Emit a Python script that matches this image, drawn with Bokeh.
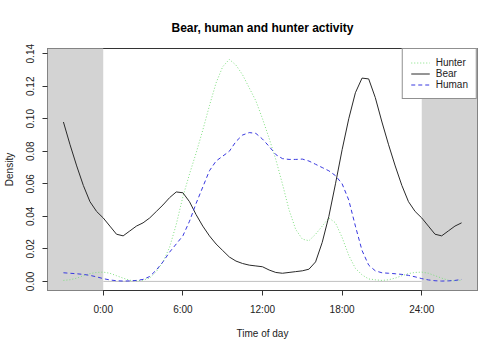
from bokeh.plotting import figure
from bokeh.models import FixedTicker, Range1d, Legend, LegendItem
from bokeh.embed import file_html
from bokeh.resources import INLINE

# ---------------- data ----------------
title_text = "Bear, human and hunter activity"
x_label = "Time of day"
y_label = "Density"

hours = [-3, -2.5, -2, -1.5, -1, -0.5,
         0, 0.5, 1, 1.5, 2, 2.5,
         3, 3.5, 4, 4.5, 5, 5.5,
         6, 6.5, 7, 7.5, 8, 8.5,
         9, 9.5, 10, 10.5, 11, 11.5,
         12, 12.5, 13, 13.5, 14, 14.5,
         15, 15.5, 16, 16.5, 17, 17.5,
         18, 18.5, 19, 19.5, 20, 20.5,
         21, 21.5, 22, 22.5, 23, 23.5,
         24, 24.5, 25, 25.5, 26, 26.5,
         27]

bear = [0.098, 0.084, 0.071, 0.059, 0.049, 0.043,
        0.039, 0.034, 0.029, 0.028, 0.031, 0.034,
        0.036, 0.039, 0.043, 0.047, 0.0515, 0.055,
        0.0545, 0.049, 0.041, 0.034, 0.028, 0.023,
        0.019, 0.015, 0.0125, 0.011, 0.010, 0.0095,
        0.009, 0.007, 0.0055, 0.005, 0.0055, 0.006,
        0.0065, 0.0075, 0.012, 0.024, 0.040, 0.060,
        0.081, 0.100, 0.116, 0.125, 0.1245, 0.113,
        0.098, 0.084, 0.071, 0.059, 0.049, 0.043,
        0.039, 0.034, 0.029, 0.028, 0.031, 0.034,
        0.036]

hunter = [0.0006, 0.001, 0.002, 0.0035, 0.0048, 0.0055,
          0.0057, 0.005, 0.0035, 0.002, 0.0007, 0.0003,
          0.0008, 0.002, 0.006, 0.012, 0.021, 0.035,
          0.052, 0.066, 0.079, 0.093, 0.108, 0.122,
          0.132, 0.1365, 0.133, 0.127, 0.119, 0.111,
          0.100, 0.088, 0.075, 0.060, 0.044, 0.032,
          0.026, 0.025, 0.029, 0.034, 0.039, 0.036,
          0.027, 0.016, 0.008, 0.004, 0.0015, 0.001,
          0.0006, 0.001, 0.002, 0.0035, 0.0048, 0.0055,
          0.0057, 0.005, 0.0035, 0.002, 0.0007, 0.0003,
          0.0008]

human = [0.0053, 0.005, 0.0047, 0.0043, 0.0037, 0.0028,
         0.0017, 0.0009, 0.0004, 0.0002, 0.0003, 0.0006,
         0.0012, 0.003, 0.007, 0.012, 0.018, 0.023,
         0.028, 0.037, 0.048, 0.058, 0.068, 0.074,
         0.077, 0.080, 0.086, 0.090, 0.0915, 0.091,
         0.0875, 0.083, 0.078, 0.0755, 0.075, 0.075,
         0.0752, 0.074, 0.072, 0.070, 0.068, 0.065,
         0.060, 0.050, 0.034, 0.019, 0.010, 0.0065,
         0.0053, 0.005, 0.0047, 0.0043, 0.0037, 0.0028,
         0.0017, 0.0009, 0.0004, 0.0002, 0.0003, 0.0006,
         0.0012]

x_ticks = [0, 6, 12, 18, 24]
x_tick_labels = ["0:00", "6:00", "12:00", "18:00", "24:00"]
y_ticks = [0.0, 0.02, 0.04, 0.06, 0.08, 0.10, 0.12, 0.14]
y_tick_labels = ["0.00", "0.02", "0.04", "0.06", "0.08", "0.10", "0.12", "0.14"]

# night shading (hours) and the zero reference line
shade_left = [-6, 24]
shade_right = [0, 30]
shade_bottom = [-1, -1]
shade_top = [1, 1]
zero_x = [0, 24]
zero_y = [0, 0]

# ---------------- figure ----------------
FONT = "Liberation Sans"
p = figure(width=483, height=352, output_backend="svg", toolbar_location=None,
           x_range=Range1d(-4.2, 28.2), y_range=Range1d(-0.0056, 0.1432),
           min_border_left=46, min_border_right=6, min_border_top=48,
           min_border_bottom=62, title=title_text)
p.background_fill_color = "white"
p.border_fill_color = "white"
p.outline_line_color = "#333333"
p.outline_line_width = 1
p.xgrid.visible = False
p.ygrid.visible = False

p.title.align = "center"
p.title.vertical_align = "top"
p.title.text_font = FONT
p.title.text_font_size = "12px"
p.title.text_font_style = "bold"
p.title.text_color = "black"
p.title.standoff = 24

p.line(zero_x, zero_y, line_color="#c0c0c0", line_width=1)
p.quad(left=shade_left, right=shade_right, bottom=shade_bottom, top=shade_top,
       fill_color="#d3d3d3", line_color=None)

r_hunter = p.line(hours, hunter, line_color="#80e080", line_width=1, line_dash="1 2")
r_bear = p.line(hours, bear, line_color="#2a2a2a", line_width=1)
r_human = p.line(hours, human, line_color="#3838e0", line_width=1, line_dash="4 3")

# axes
xa = p.xaxis[0]
xa.ticker = FixedTicker(ticks=x_ticks)
xa.major_label_overrides = dict(zip(x_ticks, x_tick_labels))
xa.axis_label = x_label
ya = p.yaxis[0]
ya.ticker = FixedTicker(ticks=y_ticks)
ya.major_label_overrides = dict(zip(y_ticks, y_tick_labels))
ya.axis_label = y_label
ya.major_label_orientation = "vertical"

for ax in (xa, ya):
    ax.axis_line_color = None
    ax.major_tick_line_color = "#333333"
    ax.major_tick_in = 0
    ax.major_tick_out = 5
    ax.minor_tick_line_color = None
    ax.major_label_text_font = FONT
    ax.major_label_text_font_size = "10px"
    ax.major_label_text_color = "#222222"
    ax.axis_label_text_font = FONT
    ax.axis_label_text_font_size = "10px"
    ax.axis_label_text_font_style = "normal"
    ax.axis_label_text_color = "#222222"
xa.major_label_standoff = 8
xa.axis_label_standoff = 10
ya.major_label_standoff = 8
ya.axis_label_standoff = 9

legend = Legend(items=[LegendItem(label="Hunter", renderers=[r_hunter]),
                       LegendItem(label="Bear", renderers=[r_bear]),
                       LegendItem(label="Human", renderers=[r_human])],
                location="top_right", margin=0, padding=8, spacing=0,
                label_height=11, glyph_height=11, glyph_width=19,
                label_standoff=6, label_text_font=FONT,
                label_text_font_size="10px", label_text_color="#222222",
                border_line_color="#222222", border_line_width=1,
                background_fill_color="white", background_fill_alpha=1)
p.add_layout(legend)

open("out.html", "w").write(file_html(p, INLINE))
